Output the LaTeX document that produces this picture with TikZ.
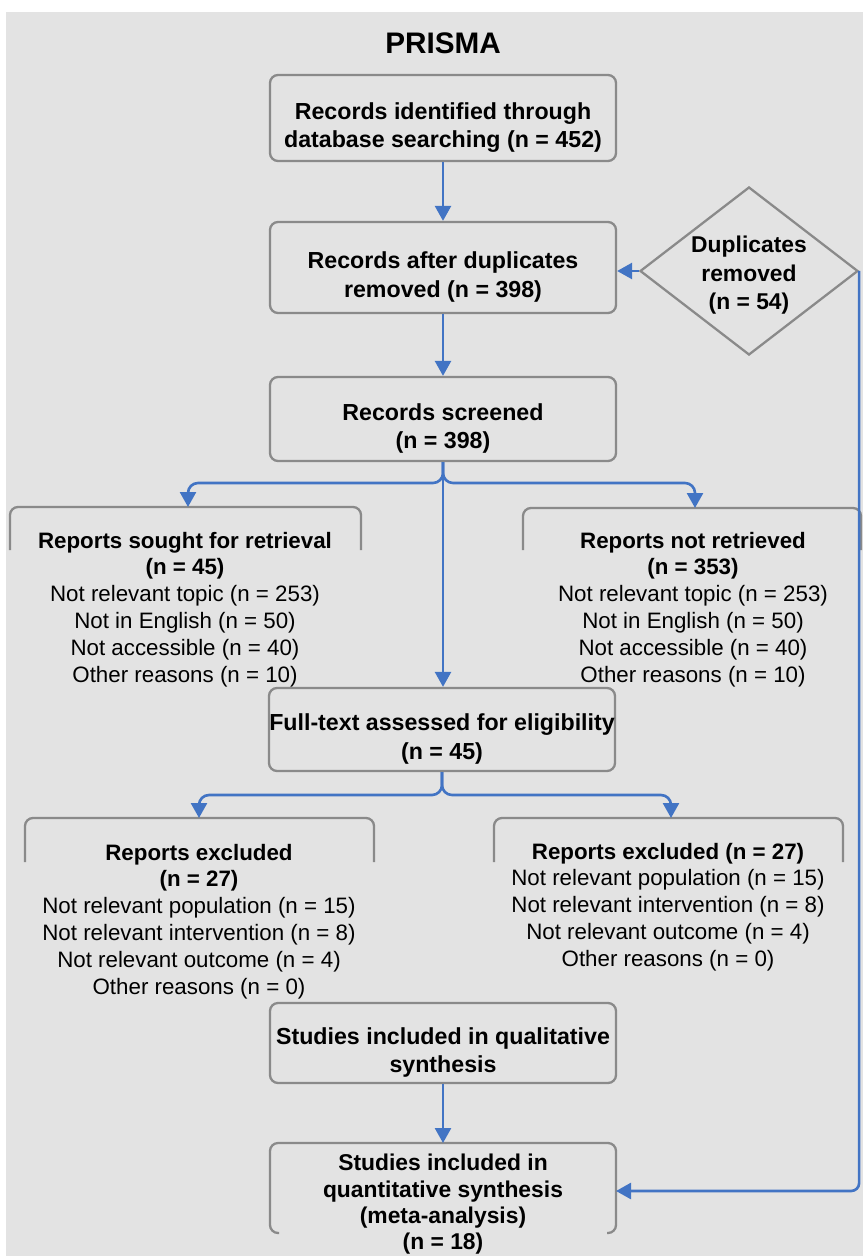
\documentclass[tikz,border=0pt]{standalone}
\usepackage{fontspec}
\setmainfont{Liberation Sans}
\usetikzlibrary{shapes.geometric,arrows.meta}
\definecolor{bggray}{RGB}{227,227,227}
\definecolor{framegray}{RGB}{138,138,138}
\definecolor{flowblue}{RGB}{66,116,196}

\begin{document}
\begin{tikzpicture}[
  box/.style={draw=framegray, line width=1.3pt, rounded corners=0.16cm, fill=bggray,
    minimum width=6.92cm, align=center, inner sep=0pt, text height=34pt, text depth=0pt,
    font=\bfseries\fontsize{13.2}{16.4}\selectfont},
  frame/.style={draw=framegray, line width=1.3pt, rounded corners=0.16cm},
  note/.style={anchor=north, align=center, inner sep=0pt,
    font=\fontsize{12.7}{15.3}\selectfont},
  flow/.style={draw=flowblue, line width=1.5pt,
    -{Triangle[width=0.32cm,length=0.3cm]}},
]
\useasboundingbox (0,0) rectangle (17.26,-25.12);
\fill[white] (0,0) rectangle (17.26,-25.12);
\fill[bggray] (0.12,-0.24) rectangle (17.26,-25.12);

\node[font=\bfseries\fontsize{16.9}{20}\selectfont] (title) at (8.86,-0.86) {PRISMA};

% main column
\node[box, minimum height=1.72cm] (ident) at (8.86,-2.36) {Records identified through\\database searching (n = 452)};
\node[box, minimum height=1.82cm] (dedup) at (8.86,-5.35) {Records after duplicates\\removed (n = 398)};
\node[box, minimum height=1.68cm] (screen) at (8.86,-8.38) {Records screened\\(n = 398)};
\node[box, minimum height=1.66cm] (fulltext) at (8.84,-14.59) {Full-text assessed for eligibility\\(n = 45)};
\node[box, minimum height=1.60cm] (qual) at (8.86,-20.86) {Studies included in qualitative\\synthesis};

\node[diamond, draw=framegray, line width=1.3pt, fill=bggray, aspect=1.3,
  minimum width=4.36cm, minimum height=3.36cm, inner sep=0pt, align=center,
  text height=44pt, text depth=0pt,
  font=\bfseries\fontsize{13.0}{16.2}\selectfont] (dup) at (14.98,-5.42) {Duplicates\\removed\\(n = 54)};

% open boxes
\draw[frame] (0.20,-11.0) -- (0.20,-10.14) -- (7.22,-10.14) -- (7.22,-11.0);
\draw[frame] (10.46,-11.0) -- (10.46,-10.16) -- (17.22,-10.16) -- (17.22,-11.0);
\draw[frame] (0.50,-17.24) -- (0.50,-16.36) -- (7.48,-16.36) -- (7.48,-17.24);
\draw[frame] (9.88,-17.24) -- (9.88,-16.36) -- (16.86,-16.36) -- (16.86,-17.24);
\draw[frame] (5.58,-24.66) -- (5.40,-24.66) -- (5.40,-22.86) -- (12.32,-22.86) -- (12.32,-24.66) -- (12.14,-24.66);

\coordinate (soughttop) at (3.76,-10.14);
\coordinate (notrettop) at (13.90,-10.16);
\coordinate (exclatop) at (3.98,-16.36);
\coordinate (exclbtop) at (13.42,-16.36);
\coordinate (quanttop) at (8.86,-22.86);
\coordinate (quantright) at (12.32,-23.82);

\node[note] (sought) at (3.70,-10.63) {\textbf{Reports sought for retrieval}\\\textbf{(n = 45)}\\Not relevant topic (n = 253)\\Not in English (n = 50)\\Not accessible (n = 40)\\Other reasons (n = 10)};
\node[note] (notret) at (13.86,-10.63) {\textbf{Reports not retrieved}\\\textbf{(n = 353)}\\Not relevant topic (n = 253)\\Not in English (n = 50)\\Not accessible (n = 40)\\Other reasons (n = 10)};
\node[note] (excla) at (3.98,-16.87) {\textbf{Reports excluded}\\\textbf{(n = 27)}\\Not relevant population (n = 15)\\Not relevant intervention (n = 8)\\Not relevant outcome (n = 4)\\Other reasons (n = 0)};
\node[note] (exclb) at (13.36,-16.85) {\textbf{Reports excluded (n = 27)}\\Not relevant population (n = 15)\\Not relevant intervention (n = 8)\\Not relevant outcome (n = 4)\\Other reasons (n = 0)};
\node[note, font=\bfseries\fontsize{13.0}{15.0}\selectfont] (quant) at (8.86,-23.08) {Studies included in\\quantitative synthesis\\(meta-analysis)\\(n = 18)};

% arrows
\draw[flow] (ident) -- (dedup);
\draw[flow] (dup.west) -- (dup.west -| dedup.east);
\draw[flow] (dedup) -- (screen);
\draw[flow, rounded corners=0.2cm] (screen.south) |- ([yshift=0.48cm]soughttop) -- (soughttop);
\draw[flow, rounded corners=0.2cm] (screen.south) |- ([yshift=0.50cm]notrettop) -- (notrettop);
\draw[flow] (screen.south) -- (screen.south |- fulltext.north);
\draw[flow, rounded corners=0.2cm] (fulltext.south) |- ([yshift=0.46cm]exclatop) -- (exclatop);
\draw[flow, rounded corners=0.2cm] (fulltext.south) |- ([yshift=0.46cm]exclbtop) -- (exclbtop);
\draw[flow] (qual) -- (quanttop);
\draw[flow, rounded corners=0.16cm] (dup.east) |- (quantright);
\end{tikzpicture}
\end{document}
